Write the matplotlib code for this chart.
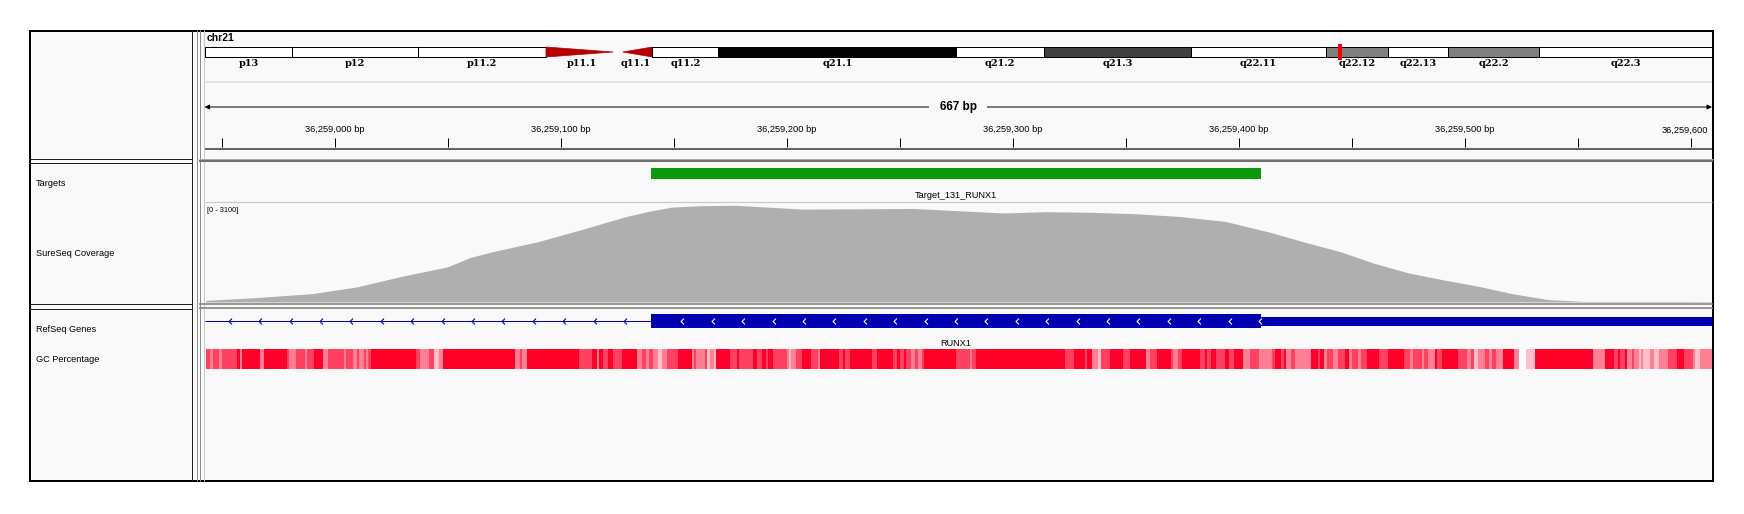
import numpy as np
import matplotlib.pyplot as plt
from matplotlib.patches import Rectangle, Polygon
from matplotlib.path import Path

plt.rcParams['font.family'] = ['Liberation Sans', 'DejaVu Sans']

# ---------------- data ----------------
chrom = 'chr21'
chrom_len = 48129895
band_names = ['p13', 'p12', 'p11.2', 'p11.1', 'q11.1', 'q11.2', 'q21.1', 'q21.2',
              'q21.3', 'q22.11', 'q22.12', 'q22.13', 'q22.2', 'q22.3']
band_start = [0, 2800000, 6800000, 10900000, 13200000, 14300000, 16400000, 24000000,
              26800000, 31500000, 35800000, 37800000, 39700000, 42600000]
band_stain = ['gvar', 'stalk', 'gvar', 'acen', 'acen', 'gneg', 'gpos100', 'gneg',
              'gpos75', 'gneg', 'gpos50', 'gneg', 'gpos50', 'gneg']

view_start = 36258942.5
view_end = 36259609.5

ruler_ticks = [36258950, 36259000, 36259050, 36259100, 36259150, 36259200, 36259250,
               36259300, 36259350, 36259400, 36259450, 36259500, 36259550, 36259600]
ruler_label_pos = [36259000, 36259100, 36259200, 36259300, 36259400, 36259500, 36259600]
ruler_labels = ['36,259,000 bp', '36,259,100 bp', '36,259,200 bp', '36,259,300 bp',
                '36,259,400 bp', '36,259,500 bp', '36,259,600']

track_names = ['Targets', 'SureSeq Coverage', 'RefSeq Genes', 'GC Percentage']

target_name = 'Target_131_RUNX1'
target_start = 36259140
target_end = 36259410

cov_max = 3100
cov_pos = [36258943, 36258965, 36258990, 36259010, 36259016, 36259030, 36259050,
           36259060, 36259070, 36259090, 36259109, 36259129, 36259139, 36259149,
           36259162, 36259177, 36259207, 36259236, 36259256, 36259276, 36259296,
           36259315, 36259335, 36259355, 36259374, 36259394, 36259414, 36259429,
           36259445, 36259460, 36259475, 36259491, 36259506, 36259521, 36259537,
           36259552, 36259583, 36259610]
cov_depth = [50, 135, 260, 470, 570, 800, 1090, 1380, 1560, 1870, 2240, 2650, 2810,
             2940, 2985, 3000, 2880, 2890, 2900, 2830, 2760, 2800, 2780, 2735, 2650,
             2500, 2160, 1860, 1560, 1200, 905, 680, 490, 260, 75, 20, 20, 15]

gene_name = 'RUNX1'
exon_start = 36259140
exon_end = 36259410
utr_end = 36259700

gc_base = 36258943
gc_end = 667
gc_offset = [0, 2, 3, 6, 7, 14, 15, 16, 24, 26, 36, 37, 40, 44, 45, 48, 52, 54, 61, 62,
             65, 67, 68, 70, 71, 72, 73, 93, 95, 99, 101, 103, 105, 137, 139, 140, 142,
             165, 171, 173, 174, 176, 178, 180, 184, 191, 193, 195, 196, 198, 200, 202,
             204, 209, 215, 216, 217, 221, 222, 223, 225, 226,
             232, 235, 236, 242, 244, 246, 248, 249, 251, 257, 258, 259, 261, 264, 268,
             271, 272, 280, 282, 283, 285, 295, 297, 304, 306, 307, 309, 310, 312, 314,
             315, 317, 318, 332, 338, 339, 341, 380, 384, 389, 390, 392, 395, 396, 400,
             406, 409, 416, 418, 421, 427, 428, 430, 432, 440, 442, 443, 445, 447, 451,
             453, 455, 459, 462, 466, 472, 473, 476, 477, 478, 480, 482, 489, 492, 493,
             495, 496, 499, 501, 504, 506, 507, 510, 511, 514, 519, 523, 530, 533, 534,
             538, 539, 541, 544, 545, 547, 554, 558, 560, 561, 563, 566, 568, 569, 571,
             574, 579, 581, 584, 588, 614, 619, 623, 625, 626, 628, 629, 631, 632, 634,
             635, 636, 639, 641, 643, 647, 651, 654, 658, 659, 661]
gc_pct = [58, 46, 58, 46, 58, 70, 46, 70, 46, 70, 58, 46, 58, 46, 58, 70, 46, 58, 46, 58,
          46, 58, 46, 58, 46, 58, 70, 58, 46, 58, 34, 46, 70, 46, 58, 46, 70,
          58, 70, 46, 70, 58, 70, 58, 70, 46, 58, 46, 58, 46, 34, 46,
          58, 70, 46, 58, 46, 58, 34, 46, 34, 70,
          58, 70, 58, 70, 58, 70, 58, 70, 58, 46, 34, 46, 58, 70, 58,
          46, 70, 58, 70, 58, 70, 58, 70, 58, 70, 58, 70, 58, 46, 58,
          46, 58, 70, 58, 46, 58, 70, 58, 70, 58, 70, 46, 34, 58, 70,
          58, 70, 46, 58, 70, 58, 46, 58, 70, 58, 70, 58, 70, 58, 70,
          58, 70, 46, 58, 46, 58, 70, 58, 70, 46, 58, 46, 70, 58, 70,
          46, 58, 46, 58, 70, 46, 58, 46, 58, 70, 58, 70, 58, 46, 58,
          46, 58, 46, 70, 58, 70, 58, 46, 58, 34, 46, 58, 46, 58, 46,
          70, 46, 22, 34, 70, 46, 70, 58, 70, 58, 70, 46, 58, 46, 34,
          46, 34, 46, 34, 46, 58, 70, 58, 46, 34, 46]

# ---------------- layout (pixels) ----------------
W, H = 1744, 514
FX0, FY0, FX1, FY1 = 29, 30, 1713, 481      # outer frame
NAME_X1 = 192                                # name panel right edge
DX0, DX1 = 204.6, 1712                       # data area
BG = '#F9F9F9'
BLUE = '#0000B2'

fig = plt.figure(figsize=(W / 100, H / 100), dpi=100)
fig.patch.set_facecolor('white')


def px_axes(x0, y0, x1, y1, z=5):
    ax = fig.add_axes([x0 / W, 1 - y1 / H, (x1 - x0) / W, (y1 - y0) / H], zorder=z)
    ax.set_axis_off()
    ax.patch.set_alpha(0)
    return ax


def track_axes(y0, y1):
    # x in bp, y in figure pixels (downwards)
    ax = px_axes(DX0, y0, DX1, y1)
    ax.set_xlim(view_start, view_end)
    ax.set_ylim(y1, y0)
    return ax


back = px_axes(0, 0, W, H, z=0)
back.set_xlim(0, W)
back.set_ylim(H, 0)
back.add_patch(Rectangle((FX0, FY0), FX1 - FX0, FY1 - FY0, fc=BG, ec='none'))

front = px_axes(0, 0, W, H, z=10)
front.set_xlim(0, W)
front.set_ylim(H, 0)
px = 0.72
front.add_patch(Rectangle((FX0 + 0.5, FY0 + 0.5), FX1 - FX0 - 1, FY1 - FY0 - 1,
                          fill=False, ec='black', lw=2 * px))
front.vlines(NAME_X1, FY0, FY1, color='#202020', lw=px)
front.vlines([196.5, 199.5], FY0, FY1, color='#8C8C8C', lw=px)
front.vlines(DX0 - 0.5, FY0, FY1, color='#C8C8C8', lw=px)
# boxes of the name panel
front.hlines([158.5, 162.5, 303.5, 308.5], FX0, NAME_X1, color='#202020', lw=px)
# separators of the data panel
front.hlines(158.5, 199, FX1, color='#A8A8A8', lw=px)
front.hlines(160.5, 199, FX1, color='#707070', lw=2 * px)
front.hlines([303.5, 307.5], 199, FX1, color='#7A7A7A', lw=1.5 * px)
front.hlines(82, DX0, DX1, color='#DCDCDC', lw=1.5 * px)
front.hlines(202, DX0, DX1, color='#C8C8D4', lw=1.2 * px)

# track names
name_y = [183, 254, 330, 360]
for nm, y in zip(track_names, name_y):
    front.text(36, y, nm, fontsize=6.6, va='center', ha='left')
front.text(207, 38, chrom, fontsize=7.5, fontweight='bold', va='center', ha='left')
front.text(207, 210, '[0 - %d]' % cov_max, fontsize=5.3, va='center', ha='left')

# ---------------- ideogram ----------------
ideo = px_axes(DX0, 40, DX1, 70)
ideo.set_xlim(0, chrom_len)
ideo.set_ylim(70, 40)
stain_color = {'gvar': 'white', 'stalk': 'white', 'gneg': 'white',
               'gpos50': '#808080', 'gpos75': '#404040', 'gpos100': 'black'}
band_end = band_start[1:] + [chrom_len]
yt, yb = 47, 57
for i, (nm, s, e, st) in enumerate(zip(band_names, band_start, band_end, band_stain)):
    if st == 'acen':
        if nm.startswith('p'):
            pts = [(s, yt), (s, yb), (e - 150000, (yt + yb) / 2)]
        else:
            pts = [(s + 150000, (yt + yb) / 2), (e, yt), (e, yb)]
        ideo.add_patch(Polygon(pts, closed=True, fc='#B40000', ec='#B40000', lw=0.5))
    else:
        ideo.add_patch(Rectangle((s, yt), e - s, yb - yt, fc=stain_color[st],
                                 ec='black', lw=px))
    ideo.text((s + e) / 2, 63.5, nm, fontsize=7, family='DejaVu Serif',
              fontweight='bold', ha='center', va='center')
loc = (view_start + view_end) / 2
ideo.plot([loc, loc], [44, 60], color='#FF0000', lw=4 * px, solid_capstyle='butt')

# ---------------- ruler ----------------
rul = track_axes(84, 152)
rul.vlines(ruler_ticks, 138, 147, color='black', lw=px)
for p, lab in zip(ruler_label_pos, ruler_labels):
    if p + 15 > view_end:
        # label at the right edge is pushed inside the panel
        rul.text(view_end - 1.5, 130, lab, fontsize=6.7, ha='right', va='center')
    else:
        rul.text(p, 130, lab, fontsize=6.7, ha='center', va='center')
rul.hlines(149, view_start, view_end, color='#646464', lw=2 * px)
rul.annotate('', xy=(view_start, 107), xytext=(view_end, 107),
             arrowprops=dict(arrowstyle='<|-|>', color='black', lw=px,
                             mutation_scale=7, shrinkA=0, shrinkB=0))
rul.text((view_start + view_end) / 2, 107, '%d bp' % round(view_end - view_start),
         fontsize=8.5, fontweight='bold', ha='center', va='center',
         bbox=dict(boxstyle='square,pad=0.9', fc=BG, ec='none'))

# ---------------- targets ----------------
tg = track_axes(163, 201)
tg.add_patch(Rectangle((target_start, 168), target_end - target_start, 11,
                       fc='#0A9A0A', ec='none'))
tg.text((target_start + target_end) / 2, 195.5, target_name, fontsize=6.6,
        ha='center', va='center')

# ---------------- coverage ----------------
cov = px_axes(DX0, 202, DX1, 302)
cov.set_xlim(view_start, view_end)
cov.set_ylim(0, cov_max)
cov.fill_between(cov_pos, cov_depth, color='#AFAFAF', lw=0)

# ---------------- gene ----------------
gn = track_axes(309, 348)
gn.hlines(321, view_start, exon_start, color=BLUE, lw=px)
gn.add_patch(Rectangle((exon_start, 314), exon_end - exon_start, 14, fc=BLUE, ec='none'))
gn.add_patch(Rectangle((exon_end, 316.5), utr_end - exon_end, 9, fc=BLUE, ec='none'))
chev = Path([(0.5, 1), (-0.5, 0), (0.5, -1)], [Path.MOVETO, Path.LINETO, Path.LINETO])
step = 13.45
intr = np.arange(view_start + 11.2, exon_start - 8, step)
gn.plot(intr, np.full(len(intr), 321), ls='none', marker=chev, ms=4.2,
        mec=BLUE, mfc='none', mew=0.8)
exn = np.arange(exon_end - 0.5, exon_start + 8, -step)
gn.plot(exn, np.full(len(exn), 321), ls='none', marker=chev, ms=4.2,
        mec='white', mfc='none', mew=0.8)
gn.text((exon_start + exon_end) / 2, 343, gene_name, fontsize=6.6,
        ha='center', va='center')

# ---------------- GC percentage ----------------
gc = track_axes(345, 372)
starts = gc_base + np.array(gc_offset, dtype=float)
widths = np.diff(np.append(np.array(gc_offset, dtype=float), gc_end))
f = np.clip((np.array(gc_pct) - 22) / 48.0, 0, 1)
colors = np.column_stack([np.ones_like(f), 1 - f, 1 - f * (215 / 255.0)])
gc.bar(starts, 20, width=widths, bottom=349, align='edge', color=colors, lw=0)

fig.savefig('out.png', dpi=100, facecolor='white')
